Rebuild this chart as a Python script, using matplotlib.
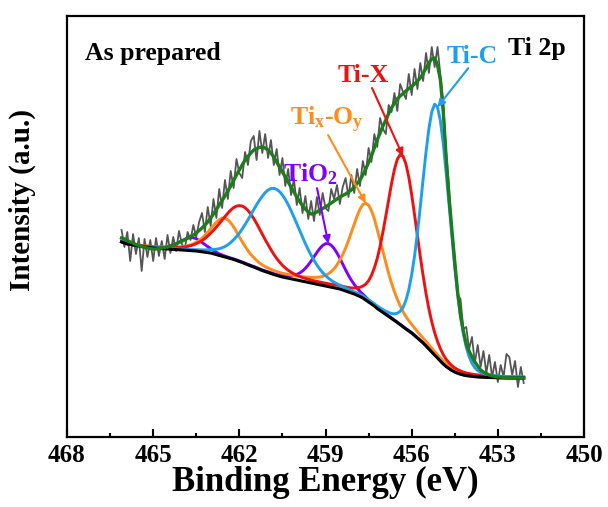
import numpy as np
import matplotlib
matplotlib.use('Agg')
import matplotlib.pyplot as plt

plt.rcParams['font.family'] = ['Liberation Serif', 'DejaVu Serif']
plt.rcParams['font.weight'] = 'bold'
plt.rcParams['mathtext.fontset'] = 'custom'
plt.rcParams['mathtext.rm'] = 'Liberation Serif:bold'
plt.rcParams['mathtext.bf'] = 'Liberation Serif:bold'
plt.rcParams['mathtext.it'] = 'Liberation Serif:bold:italic'

# ---------------- data ----------------
energy = np.round(np.arange(466.1, 452.05, -0.1), 1)   # binding energy grid (eV), 141 points

raw_counts = [
    207, 190, 205, 176, 203, 183, 199, 166, 198, 180,
    197, 176, 199, 181, 196, 178, 202, 184, 200, 186,
    206, 193, 188, 205, 197, 212, 200, 215, 224, 205,
    230, 211, 238, 219, 248, 229, 257, 238, 266, 249,
    278, 264, 259, 285, 272, 296, 301, 277, 306, 284,
    303, 279, 297, 272, 288, 262, 279, 251, 268, 242,
    258, 232, 249, 224, 241, 218, 236, 216, 240, 222,
    244, 229, 226, 248, 238, 252, 233, 250, 259, 240,
    262, 244, 268, 251, 276, 262, 289, 275, 303, 290,
    319, 308, 303, 332, 325, 344, 326, 353, 345, 338,
    363, 342, 368, 348, 374, 356, 384, 364, 390, 370,
    390, 362, 335, 285, 250, 205, 180, 142, 138, 108,
    110, 88, 100, 74, 92, 70, 86, 64, 82, 60,
    75, 55, 72, 60, 83, 80, 62, 76, 50, 70,
    54,
]

fit_envelope = [
    199, 198, 196.5, 195, 194, 192.5, 191.5, 190.5, 189.5, 189,
    188.5, 188, 188, 188.5, 189, 189.5, 190, 191, 192, 193,
    194.5, 196, 197, 199, 200.5, 202, 204, 206.5, 209, 212,
    215, 219, 223, 227.5, 232, 236.5, 241, 246, 251, 256.5,
    262, 267, 272, 277, 280.5, 284, 287, 288.5, 289.5, 290,
    289, 287, 284, 280, 275, 270, 265, 260, 255, 250,
    245, 240, 235.5, 231.5, 228, 225, 223, 223.5, 225, 227,
    228.5, 230, 232, 234, 236, 238, 240, 241.5, 243, 245,
    247, 250, 253.5, 257, 262, 268, 274.5, 281, 289, 297,
    304, 311, 317, 323.5, 329, 334, 338, 341, 343.5, 346,
    348.5, 350.5, 353, 356, 359, 363.5, 369, 374, 378, 379,
    372, 357, 325, 280, 240, 207, 175, 145, 122, 106,
    93, 86, 80, 75, 71, 67, 65, 63.5, 62, 61,
    60.5, 60, 60, 59.5, 59.5, 59, 59, 59, 59, 59,
    59,
]

background = [
    195, 194, 193, 192.5, 192, 191.5, 191, 190.5, 190, 189.8,
    189.4, 189, 188.8, 188.6, 188.4, 188.2, 188, 187.8, 187.6, 187.4,
    187.2, 187, 186.8, 186.6, 186.4, 186.2, 186, 185.6, 185.2, 184.8,
    184.4, 184, 183.2, 182.4, 181.6, 180.8, 180, 179.2, 178.4, 177.6,
    176.6, 175.5, 174.5, 173.4, 172.2, 171, 170, 168.8, 167.5, 166.4,
    165.4, 164.5, 163.5, 162.5, 161.6, 160.8, 160, 159.4, 158.8, 158.2,
    157.6, 157, 156.4, 155.8, 155.2, 154.6, 154, 153.4, 152.8, 152.2,
    151.6, 151, 150.4, 149.8, 149.2, 148.6, 148, 147, 146, 145,
    144, 143, 141.8, 140.5, 139, 137, 135, 133, 131, 128.5,
    126.5, 124.5, 122.5, 120.5, 118.5, 116.5, 114.5, 112.3, 110, 108,
    106, 104, 101.5, 99, 96.5, 94, 91, 88, 85, 82,
    79, 76, 73, 70.5, 68.5, 66.5, 65, 63.8, 62.8, 62,
    61.4, 61, 60.6, 60.3, 60.1, 60, 59.8, 59.6, 59.5, 59.4,
    59.3, 59.2, 59.1, 59, 59, 59, 59, 59, 59, 59,
    59,
]

species = ['TiO$_2$', 'Ti$_\\mathrm{x}$-O$_\\mathrm{y}$', 'Ti-X', 'Ti-C']
center_2p32 = [458.91, 457.55, 456.34, 455.15]
center_2p12 = [463.65, 462.50, 461.90, 460.76]
height_2p32 = [43, 97, 171, 252]
height_2p12 = [13, 38, 56, 86]
hwhm_2p32 = [0.60, 0.68, 0.63, 0.575]
hwhm_2p12 = [0.50, 0.62, 0.88, 0.97]
lorentz_frac = [0.2, 0.45, 0.2, 0.1]

colors = ['#7f00ff', '#ff8c1a', '#ee1111', '#1e9fec']
green = '#1b7d1b'


def pseudo_voigt(e, c, h, w, eta):
    u = (e - c) / w
    return h * (eta / (1 + u ** 2) + (1 - eta) * np.exp(-np.log(2) * u ** 2))


bg = np.array(background, dtype=float)
comps = []
for i in range(len(species)):
    p = (pseudo_voigt(energy, center_2p32[i], height_2p32[i], hwhm_2p32[i], lorentz_frac[i])
         + pseudo_voigt(energy, center_2p12[i], height_2p12[i], hwhm_2p12[i], lorentz_frac[i]))
    comps.append(p)

# ---------------- figure ----------------
fig = plt.figure(figsize=(6.08, 5.07), dpi=100)
ax = fig.add_axes([67 / 608, 70 / 507, 517 / 608, 421 / 507])

ax.plot(energy, raw_counts, color='#555555', lw=1.3, zorder=2)
for i in range(len(species)):
    ax.plot(energy, bg + comps[i], color=colors[i], lw=2.1, zorder=3)
ax.plot(energy, bg, color='black', lw=2.2, zorder=4)
ax.plot(energy, fit_envelope, color=green, lw=2.4, zorder=5)

ax.set_xlim(468, 450)
ax.set_ylim(0, 421)
ax.set_xticks(np.arange(468, 449, -3))
ax.set_xticks(np.arange(466.5, 450, -3), minor=True)
ax.set_yticks([])
ax.tick_params(axis='x', which='major', direction='in', length=6, width=1.5,
               labelsize=18, pad=5)
ax.tick_params(axis='x', which='minor', direction='in', length=3, width=1.5)
for lab in ax.get_xticklabels():
    lab.set_fontweight('bold')
for s in ax.spines.values():
    s.set_linewidth(1.6)

ax.set_xlabel('Binding Energy (eV)', fontsize=25, fontweight='bold', va='top')
ax.xaxis.set_label_coords(0.5, -0.069)
ax.set_ylabel('Intensity (a.u.)', fontsize=21, fontweight='bold')
ax.yaxis.set_label_coords(-0.06, 0.562)

ax.text(0.035, 0.8955, 'As prepared', transform=ax.transAxes, fontsize=18.5,
        fontweight='bold', va='baseline', ha='left')
ax.text(0.853, 0.907, 'Ti 2p', transform=ax.transAxes, fontsize=18.5,
        fontweight='bold', va='baseline', ha='left')

label_pos = [(0.418, 0.606), (0.431, 0.741), (0.524, 0.843), (0.735, 0.888)]
arrow_start = [(0.4836, 0.591), (0.505, 0.717), (0.590, 0.829), (0.776, 0.876)]
for i in range(len(species)):
    ax.text(label_pos[i][0], label_pos[i][1], species[i], transform=ax.transAxes,
            fontsize=18.5, fontweight='bold', color=colors[i], va='baseline', ha='left')
    ci = int(np.argmin(np.abs(energy - center_2p32[i])))
    tip = (energy[ci], bg[ci] + comps[i][ci])
    ax.annotate('', xy=tip, xycoords='data', xytext=arrow_start[i], textcoords='axes fraction',
                arrowprops=dict(arrowstyle='-|>', color=colors[i], lw=1.5,
                                mutation_scale=11, shrinkA=0, shrinkB=0), zorder=6)

fig.savefig('out.png', dpi=100)
